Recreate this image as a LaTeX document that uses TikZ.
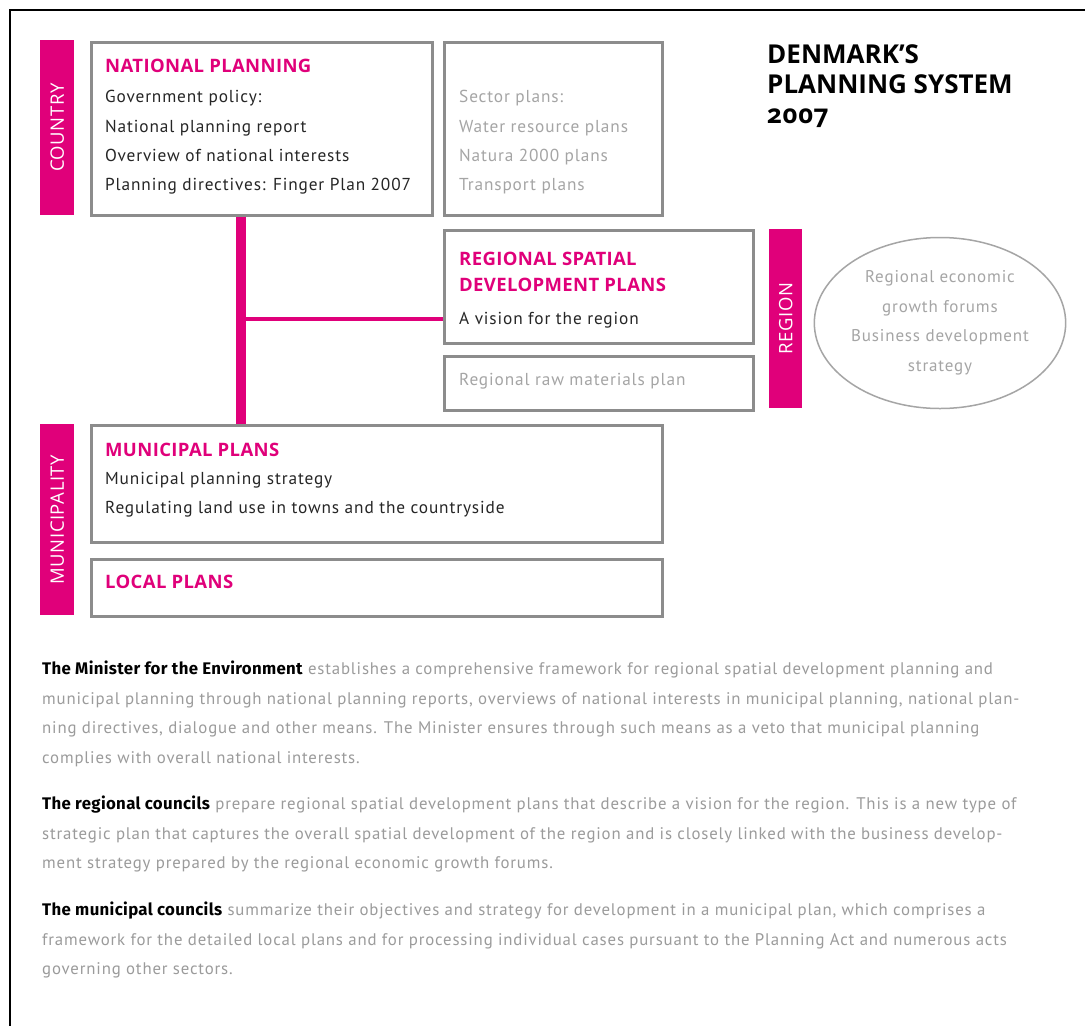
\documentclass[tikz,border=0pt]{standalone}
\usepackage{fontspec}
\setmainfont{PT Sans}[LetterSpace=5]
\newfontfamily\headfont{Open Sans}[LetterSpace=2]
\newfontfamily\barfont{Open Sans}[LetterSpace=3]
\newfontfamily\leadfont{Fira Sans}[LetterSpace=2]
\newfontfamily\titlefont{Open Sans}[Numbers=OldStyle]
\usetikzlibrary{shapes.geometric}
\definecolor{planpink}{RGB}{224,0,122}
\definecolor{framegrey}{RGB}{140,140,140}
\definecolor{softgrey}{RGB}{165,165,165}
\definecolor{paragrey}{RGB}{155,155,155}
\tikzset{
  plan box/.style={draw=framegrey, line width=2.5, anchor=north west, inner sep=0},
  level bar/.style={fill=planpink, anchor=north west, inner sep=0},
  bar label/.style={rotate=90, text=white, inner sep=0, font=\barfont\fontsize{18.5}{18.5}\selectfont},
  head/.style={anchor=base west, inner sep=0, text=planpink, font=\headfont\bfseries\fontsize{18.5}{18.5}\selectfont},
  item/.style={anchor=base west, inner sep=0, text=black!85, font=\fontsize{17.3}{17.3}\selectfont},
  faint item/.style={item, text=softgrey},
  para/.style={anchor=north west, inner sep=0, align=left, text=paragrey, font=\fontsize{16.8}{29.5}\selectfont},
}
\newcommand{\lead}[1]{{\leadfont\bfseries\color{black}#1}}
\begin{document}
\begin{tikzpicture}[x=1pt,y=-1pt]
  \useasboundingbox[fill=white] (0,0) rectangle (1085,1026);
  % frame
  \draw[line width=2] (10,1040) -- (10,10) -- (1100,10);
  % title
  \node[anchor=north west, inner sep=0, align=left, font=\titlefont\bfseries\fontsize{26}{30}\selectfont] (title) at (767,44) {DENMARK’S\\PLANNING SYSTEM\\2007};
  % level bars
  \node[level bar, minimum width=34, minimum height=175] (country) at (40,40) {};
  \node[bar label] (country label) at (country.center) {COUNTRY};
  \node[level bar, minimum width=33, minimum height=179] (region) at (769,229) {};
  \node[bar label] (region label) at (region.center) {REGION};
  \node[level bar, minimum width=34, minimum height=191] (municipality) at (40,424) {};
  \node[bar label] (municipality label) at (municipality.center) {MUNICIPALITY};
  % national level
  \node[plan box, minimum width=341, minimum height=173] (national) at (90,41) {};
  \node[head] (national head) at (105,72) {NATIONAL PLANNING};
  \node[item] (policy) at (105,102) {Government policy:};
  \node[item] (report) at (105,132) {National planning report};
  \node[item] (overview) at (105,161) {Overview of national interests};
  \node[item] (directives) at (105,190) {Planning directives: Finger Plan 2007};
  \node[plan box, minimum width=218, minimum height=173] (sector) at (443,41) {};
  \node[faint item] (sector head) at (459,102) {Sector plans:};
  \node[faint item] (water) at (459,132) {Water resource plans};
  \node[faint item] (natura) at (459,161) {Natura 2000 plans};
  \node[faint item] (transport) at (459,190) {Transport plans};
  % regional level
  \node[plan box, minimum width=309, minimum height=113] (regional) at (443,229) {};
  \node[head] (regional head) at (459,265) {REGIONAL SPATIAL};
  \node[head] (regional head2) at (459,291) {DEVELOPMENT PLANS};
  \node[item] (vision) at (459,324) {A vision for the region};
  \node[plan box, minimum width=309, minimum height=54] (raw) at (443,355) {};
  \node[faint item] (raw text) at (459,385) {Regional raw materials plan};
  \node[ellipse, draw=softgrey, line width=1.5, minimum width=248, minimum height=171, inner sep=0,
        align=center, text=softgrey, font=\fontsize{17}{29.5}\selectfont] (forums) at (940,323)
        {Regional economic\\growth forums\\Business development\\strategy};
  % municipal level
  \node[plan box, minimum width=571, minimum height=117] (municipal) at (90,424) {};
  \node[head] (municipal head) at (105,456) {MUNICIPAL PLANS};
  \node[item] (strategy) at (105,484) {Municipal planning strategy};
  \node[item] (landuse) at (105,513) {Regulating land use in towns and the countryside};
  \node[plan box, minimum width=571, minimum height=57] (local) at (90,558) {};
  \node[head] (local head) at (105,588) {LOCAL PLANS};
  % links
  \coordinate (junction) at (241,319);
  \draw[planpink, line width=10] (national.south -| junction) -- (municipal.north -| junction);
  \draw[planpink, line width=4] (junction) -- (junction -| regional.west);
  % text
  \node[para] (minister) at (42,661) {\lead{The Minister for the Environment} establishes a comprehensive framework for regional spatial development planning and\\
    municipal planning through national planning reports, overviews of national interests in municipal planning, national plan-\\
    ning directives, dialogue and other means. The Minister ensures through such means as a veto that municipal planning\\
    complies with overall national interests.};
  \node[para] (regional councils) at (42,796) {\lead{The regional councils} prepare regional spatial development plans that describe a vision for the region. This is a new type of\\
    strategic plan that captures the overall spatial development of the region and is closely linked with the business develop-\\
    ment strategy prepared by the regional economic growth forums.};
  \node[para] (municipal councils) at (42,902) {\lead{The municipal councils} summarize their objectives and strategy for development in a municipal plan, which comprises a\\
    framework for the detailed local plans and for processing individual cases pursuant to the Planning Act and numerous acts\\
    governing other sectors.};
\end{tikzpicture}
\end{document}
